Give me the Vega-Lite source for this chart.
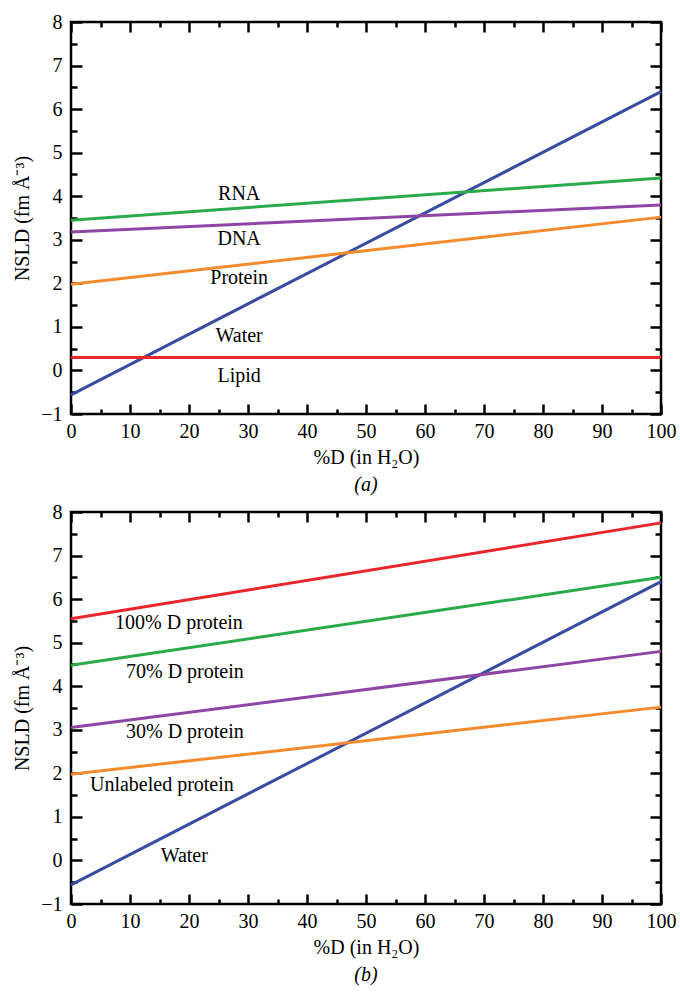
{
  "$schema": "https://vega.github.io/schema/vega-lite/v6.json",
  "padding": {"left": 11, "top": 10, "right": 5, "bottom": 5},
  "background": "white",
  "config": {
    "view": {"stroke": "black", "strokeWidth": 2.5},
    "axis": {"domain": false, "grid": false, "tickColor": "black", "tickWidth": 2.5, "labelFont": "Liberation Serif", "labelFontSize": 20, "labelColor": "black", "titleFont": "Liberation Serif", "titleFontSize": 20, "titleFontWeight": "normal", "titleColor": "black", "labelFlush": false, "labelOverlap": false},
    "title": {"font": "Liberation Serif", "fontSize": 20, "fontWeight": "normal", "fontStyle": "italic", "color": "black", "orient": "bottom", "anchor": "middle", "offset": 8},
    "text": {"font": "Liberation Serif", "fontSize": 20, "color": "black"}
  },
  "datasets": {
    "a": [
      {"series": "Water", "x": 0, "y": -0.56}, {"series": "Water", "x": 100, "y": 6.4},
      {"series": "RNA", "x": 0, "y": 3.45}, {"series": "RNA", "x": 100, "y": 4.42},
      {"series": "DNA", "x": 0, "y": 3.18}, {"series": "DNA", "x": 100, "y": 3.8},
      {"series": "Protein", "x": 0, "y": 1.98}, {"series": "Protein", "x": 100, "y": 3.52},
      {"series": "Lipid", "x": 0, "y": 0.3}, {"series": "Lipid", "x": 100, "y": 0.3}
    ],
    "alab": [
      {"label": "RNA", "x": 28.5, "y": 4.06},
      {"label": "DNA", "x": 28.5, "y": 3.02},
      {"label": "Protein", "x": 28.5, "y": 2.13},
      {"label": "Water", "x": 28.5, "y": 0.78},
      {"label": "Lipid", "x": 28.5, "y": -0.12}
    ],
    "b": [
      {"series": "Water", "x": 0, "y": -0.56}, {"series": "Water", "x": 100, "y": 6.4},
      {"series": "100% D protein", "x": 0, "y": 5.55}, {"series": "100% D protein", "x": 100, "y": 7.75},
      {"series": "70% D protein", "x": 0, "y": 4.48}, {"series": "70% D protein", "x": 100, "y": 6.5},
      {"series": "30% D protein", "x": 0, "y": 3.05}, {"series": "30% D protein", "x": 100, "y": 4.8},
      {"series": "Unlabeled protein", "x": 0, "y": 1.98}, {"series": "Unlabeled protein", "x": 100, "y": 3.52}
    ],
    "blab": [
      {"label": "100% D protein", "x": 18.3, "y": 5.45},
      {"label": "70% D protein", "x": 19.3, "y": 4.33},
      {"label": "30% D protein", "x": 19.3, "y": 2.95},
      {"label": "Unlabeled protein", "x": 15.4, "y": 1.74},
      {"label": "Water", "x": 19.2, "y": 0.11}
    ]
  },
  "spacing": 3,
  "vconcat": [
    {
      "width": 590, "height": 392,
      "title": {"text": "(a)"},
      "resolve": {"axis": {"x": "independent", "y": "independent"}},
      "layer": [
        {
          "data": {"name": "a"},
          "mark": {"type": "line", "strokeWidth": 3},
          "encoding": {
            "x": {"field": "x", "type": "quantitative", "scale": {"domain": [0, 100], "nice": false, "zero": false},
              "axis": {"orient": "bottom", "values": [0,10,20,30,40,50,60,70,80,90,100], "tickSize": -10, "labelPadding": 17, "title": "%D (in H₂O)", "titlePadding": 6}},
            "y": {"field": "y", "type": "quantitative", "scale": {"domain": [-1, 8], "nice": false, "zero": false},
              "axis": {"orient": "left", "values": [-1,0,1,2,3,4,5,6,7,8], "tickSize": -11, "labelPadding": 20, "title": "NSLD (fm Å⁻³)", "titlePadding": 8}},
            "color": {"field": "series", "type": "nominal", "legend": null,
              "scale": {"domain": ["Water","RNA","DNA","Protein","Lipid","100% D protein","70% D protein","30% D protein","Unlabeled protein"], "range": ["#3a4ba2","#2aab4a","#8e46a6","#f58b2e","#e8262b","#e8262b","#2aab4a","#8e46a6","#f58b2e"]}}
          }
        },
        {
          "data": {"name": "a"},
          "mark": {"type": "line", "opacity": 0},
          "encoding": {
            "x": {"field": "x", "type": "quantitative", "axis": {"orient": "bottom", "values": [5,15,25,35,45,55,65,75,85,95], "tickSize": -5, "labels": false, "title": null}},
            "y": {"field": "y", "type": "quantitative", "axis": {"orient": "left", "values": [-0.5,0.5,1.5,2.5,3.5,4.5,5.5,6.5,7.5], "tickSize": -6, "labels": false, "title": null}},
            "detail": {"field": "series"}
          }
        },
        {
          "data": {"name": "a"},
          "mark": {"type": "line", "opacity": 0},
          "encoding": {
            "x": {"field": "x", "type": "quantitative", "axis": {"orient": "top", "values": [0,10,20,30,40,50,60,70,80,90,100], "tickSize": -10, "labels": false, "title": null}},
            "y": {"field": "y", "type": "quantitative", "axis": {"orient": "right", "values": [-1,0,1,2,3,4,5,6,7,8], "tickSize": -11, "labels": false, "title": null}},
            "detail": {"field": "series"}
          }
        },
        {
          "data": {"name": "a"},
          "mark": {"type": "line", "opacity": 0},
          "encoding": {
            "x": {"field": "x", "type": "quantitative", "axis": {"orient": "top", "values": [5,15,25,35,45,55,65,75,85,95], "tickSize": -5, "labels": false, "title": null}},
            "y": {"field": "y", "type": "quantitative", "axis": {"orient": "right", "values": [-0.5,0.5,1.5,2.5,3.5,4.5,5.5,6.5,7.5], "tickSize": -6, "labels": false, "title": null}},
            "detail": {"field": "series"}
          }
        },
        {
          "data": {"name": "alab"},
          "mark": {"type": "text", "align": "center", "baseline": "middle"},
          "encoding": {
            "x": {"field": "x", "type": "quantitative", "axis": null},
            "y": {"field": "y", "type": "quantitative", "axis": null},
            "text": {"field": "label"}
          }
        }
      ]
    },
    {
      "width": 590, "height": 392,
      "title": {"text": "(b)"},
      "resolve": {"axis": {"x": "independent", "y": "independent"}},
      "layer": [
        {
          "data": {"name": "b"},
          "mark": {"type": "line", "strokeWidth": 3},
          "encoding": {
            "x": {"field": "x", "type": "quantitative", "scale": {"domain": [0, 100], "nice": false, "zero": false},
              "axis": {"orient": "bottom", "values": [0,10,20,30,40,50,60,70,80,90,100], "tickSize": -10, "labelPadding": 17, "title": "%D (in H₂O)", "titlePadding": 6}},
            "y": {"field": "y", "type": "quantitative", "scale": {"domain": [-1, 8], "nice": false, "zero": false},
              "axis": {"orient": "left", "values": [-1,0,1,2,3,4,5,6,7,8], "tickSize": -11, "labelPadding": 20, "title": "NSLD (fm Å⁻³)", "titlePadding": 8}},
            "color": {"field": "series", "type": "nominal", "legend": null}
          }
        },
        {
          "data": {"name": "b"},
          "mark": {"type": "line", "opacity": 0},
          "encoding": {
            "x": {"field": "x", "type": "quantitative", "axis": {"orient": "bottom", "values": [5,15,25,35,45,55,65,75,85,95], "tickSize": -5, "labels": false, "title": null}},
            "y": {"field": "y", "type": "quantitative", "axis": {"orient": "left", "values": [-0.5,0.5,1.5,2.5,3.5,4.5,5.5,6.5,7.5], "tickSize": -6, "labels": false, "title": null}},
            "detail": {"field": "series"}
          }
        },
        {
          "data": {"name": "b"},
          "mark": {"type": "line", "opacity": 0},
          "encoding": {
            "x": {"field": "x", "type": "quantitative", "axis": {"orient": "top", "values": [0,10,20,30,40,50,60,70,80,90,100], "tickSize": -10, "labels": false, "title": null}},
            "y": {"field": "y", "type": "quantitative", "axis": {"orient": "right", "values": [-1,0,1,2,3,4,5,6,7,8], "tickSize": -11, "labels": false, "title": null}},
            "detail": {"field": "series"}
          }
        },
        {
          "data": {"name": "b"},
          "mark": {"type": "line", "opacity": 0},
          "encoding": {
            "x": {"field": "x", "type": "quantitative", "axis": {"orient": "top", "values": [5,15,25,35,45,55,65,75,85,95], "tickSize": -5, "labels": false, "title": null}},
            "y": {"field": "y", "type": "quantitative", "axis": {"orient": "right", "values": [-0.5,0.5,1.5,2.5,3.5,4.5,5.5,6.5,7.5], "tickSize": -6, "labels": false, "title": null}},
            "detail": {"field": "series"}
          }
        },
        {
          "data": {"name": "blab"},
          "mark": {"type": "text", "align": "center", "baseline": "middle"},
          "encoding": {
            "x": {"field": "x", "type": "quantitative", "axis": null},
            "y": {"field": "y", "type": "quantitative", "axis": null},
            "text": {"field": "label"}
          }
        }
      ]
    }
  ]
}
